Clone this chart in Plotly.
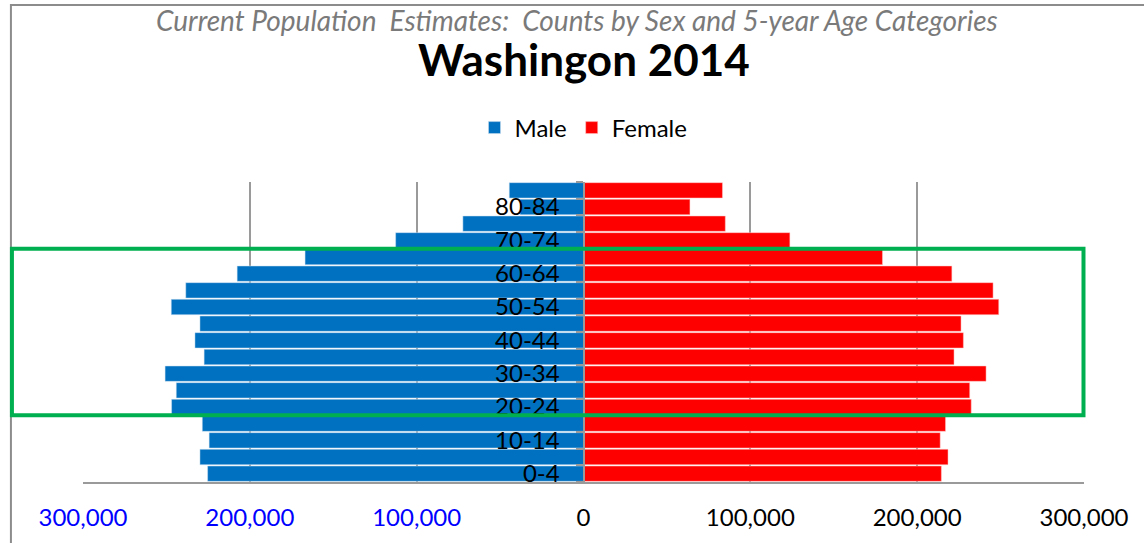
import plotly.graph_objects as go

# age groups, bottom to top
age_groups = ["0-4", "5-9", "10-14", "15-19", "20-24", "25-29", "30-34", "35-39",
              "40-44", "45-49", "50-54", "55-59", "60-64", "65-69", "70-74",
              "75-79", "80-84", "85+"]
male = [225300, 229900, 224400, 228500, 246900, 244100, 250800, 227400,
        232900, 229900, 247100, 238400, 207600, 166900, 112600, 72300, 38000, 44500]
female = [214500, 218500, 213800, 217000, 232400, 231500, 241300, 222100,
          227700, 226300, 248900, 245500, 220800, 179200, 123700, 85000, 63800, 83300]

tick_vals = [-300000, -200000, -100000, 0, 100000, 200000, 300000]
tick_text = ['<span style="color:#0000FF">300,000</span>',
             '<span style="color:#0000FF">200,000</span>',
             '<span style="color:#0000FF">100,000</span>',
             "0", "100,000", "200,000", "300,000"]
age_text = [a if i % 2 == 0 else "" for i, a in enumerate(age_groups)]

# highlighted rows of the green box
box_from, box_to = "20-24", "65-69"

FONT = "Lato"
GRID = "#9a9a9a"

fig = go.Figure()
fig.add_trace(go.Bar(y=age_groups, x=[-v for v in male], orientation="h", name="Male",
                     marker=dict(color="#0070C0", line=dict(color="#cfe0f0", width=0.5))))
fig.add_trace(go.Bar(y=age_groups, x=female, orientation="h", name="Female",
                     marker=dict(color="#FF0000", line=dict(color="#ffc8c8", width=0.5))))

fig.update_layout(
    width=1144, height=543,
    margin=dict(l=83, r=60, t=182, b=61),
    paper_bgcolor="white", plot_bgcolor="white",
    barmode="overlay", bargap=0.08,
    font=dict(family=FONT, size=23, color="black"),
    showlegend=True,
    legend=dict(orientation="h", x=0.5, xanchor="center", y=1.18, yanchor="middle",
                font=dict(size=24), itemwidth=30, traceorder="normal"),
    xaxis=dict(range=[-300000, 300000], tickvals=tick_vals, ticktext=tick_text,
               showgrid=True, gridcolor=GRID, gridwidth=1.5, automargin=False,
               zeroline=False, showline=True, linecolor=GRID, linewidth=1.5,
               ticks="", ticklabelstandoff=13, tickfont=dict(size=24)),
    yaxis=dict(type="category", categoryorder="array", categoryarray=age_groups,
               tickvals=age_groups, ticktext=age_text, tickson="boundaries",
               anchor="free", position=0.5, showline=True, linecolor=GRID, linewidth=2,
               ticks="outside", ticklen=7, tickcolor=GRID, tickwidth=1.5, automargin=False,
               showgrid=False, zeroline=False, ticklabelstandoff=18,
               tickfont=dict(size=24)),
)

# titles
fig.add_annotation(text="<i>Current Population  Estimates:  Counts by Sex and 5-year Age Categories</i>",
                   xref="paper", yref="paper", x=0.494, y=1.54, yanchor="middle", showarrow=False,
                   font=dict(family=FONT, size=28, color="#7a7a7a"))
fig.add_annotation(text="<b>Washingon 2014</b>", xref="paper", yref="paper",
                   x=0.5, y=1.41, yanchor="middle", showarrow=False,
                   font=dict(family=FONT, size=44, color="black"))

# outer chart border (partly outside the window) and the green highlight box
fig.add_shape(type="rect", xref="paper", yref="paper", x0=-0.072, x1=1.3, y0=-0.4, y1=1.59,
              line=dict(color="#8c8c8c", width=2), layer="below")
fig.add_shape(type="rect", xref="paper", yref="y",
              y0=age_groups.index(box_from) - 0.5, y1=age_groups.index(box_to) + 0.5,
              x0=-0.071, x1=0.9995, line=dict(color="#00B050", width=4), layer="above")

# drop the page's default body margin so the figure sits at the window's corner
fig.write_html("out.html", config={"displayModeBar": False},
               post_script="document.body.style.margin = '0';")
